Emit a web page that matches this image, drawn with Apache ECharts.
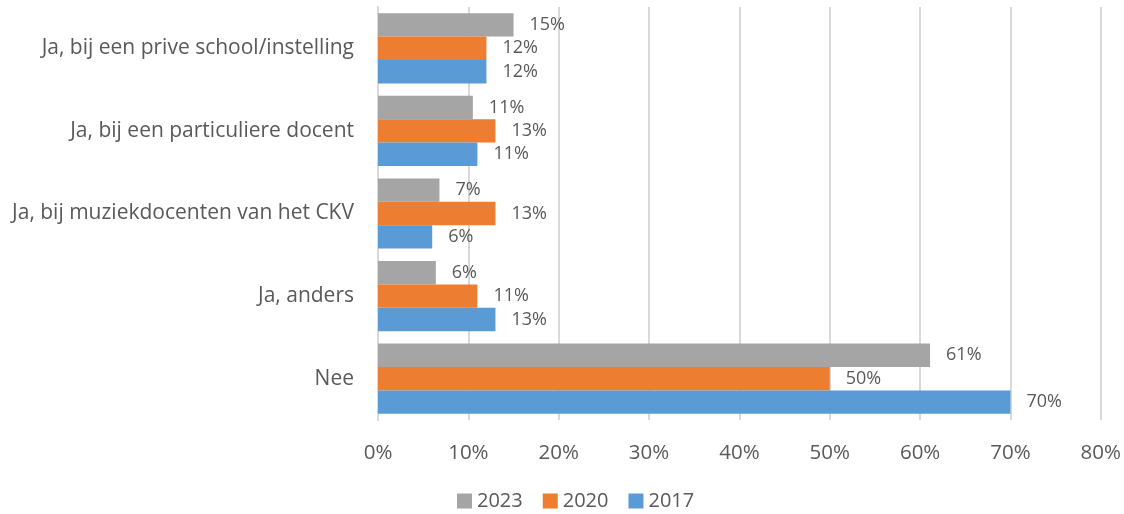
<!DOCTYPE html>
<html>
<head>
<meta charset="utf-8">
<script src="https://cdn.jsdelivr.net/npm/echarts@6/dist/echarts.min.js"></script>
<style>
  html, body { margin: 0; padding: 0; background: #fff; }
  #chart { width: 1124px; height: 514px; }
</style>
</head>
<body>
<div id="chart"></div>
<script>
// Categories listed top to bottom
const categories = [
  'Ja, bij een prive school/instelling',
  'Ja, bij een particuliere docent',
  'Ja, bij muziekdocenten van het CKV',
  'Ja, anders',
  'Nee'
];
// Share of respondents (%) per survey year
const values2023 = [15, 10.5, 6.8, 6.4, 61.1];
const values2020 = [12, 13, 13, 11, 50];
const values2017 = [12, 11, 6, 13, 70];
const xTicks = [0, 10, 20, 30, 40, 50, 60, 70, 80];

const FONT = 'Open Sans';
const TEXT = '#595959';

const chart = echarts.init(document.getElementById('chart'));

function barSeries(name, data, color) {
  return {
    name: name,
    type: 'bar',
    data: data,
    barGap: '0%',
    barCategoryGap: '15%',
    itemStyle: { color: color },
    label: {
      show: true,
      position: 'right',
      distance: 16,
      formatter: p => Math.round(p.value) + '%',
      color: TEXT,
      fontFamily: FONT,
      fontSize: 18
    }
  };
}

chart.setOption({
  animation: false,
  grid: { left: 378, right: 23, top: 7, bottom: 94, containLabel: false },
  legend: {
    data: ['2023', '2020', '2017'],
    top: 491,
    left: 457,
    padding: 0,
    itemWidth: 15,
    itemHeight: 15,
    itemGap: 20,
    icon: 'rect',
    textStyle: { color: TEXT, fontFamily: FONT, fontSize: 20 }
  },
  xAxis: {
    type: 'value',
    min: xTicks[0],
    max: xTicks[xTicks.length - 1],
    interval: 10,
    axisLine: { show: false },
    axisTick: { show: false },
    splitLine: { lineStyle: { color: '#D9D9D9', width: 2 } },
    axisLabel: {
      formatter: v => v + '%',
      color: TEXT,
      fontFamily: FONT,
      fontSize: 20.5,
      margin: 23
    }
  },
  yAxis: {
    type: 'category',
    data: categories,
    inverse: true,
    axisLine: { show: true, lineStyle: { color: '#D9D9D9', width: 2 } },
    axisTick: { show: false },
    axisLabel: {
      color: TEXT,
      fontFamily: FONT,
      fontSize: 21,
      margin: 24
    }
  },
  series: [
    barSeries('2023', values2023, '#A5A5A5'),
    barSeries('2020', values2020, '#ED7D31'),
    barSeries('2017', values2017, '#5B9BD5')
  ]
});
</script>
</body>
</html>
